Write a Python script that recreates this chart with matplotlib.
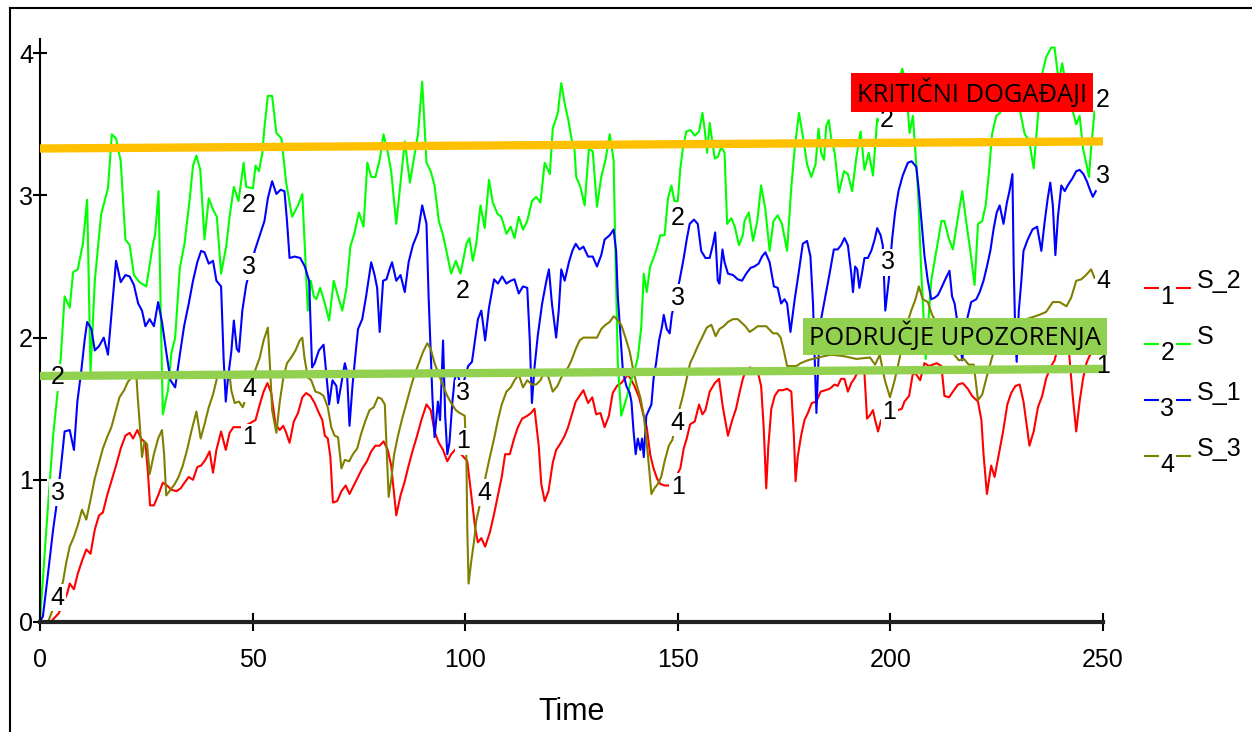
import numpy as np
import matplotlib.pyplot as plt
from matplotlib import font_manager
from matplotlib.lines import Line2D
from matplotlib.patches import Rectangle

# data
s2_t = [0, 2.5, 4.4, 6.4, 7.0, 8.0, 8.9, 9.9, 10.9, 11.9, 12.9, 13.9, 14.8, 15.8, 16.8, 17.9, 19.0, 20.1, 21.1, 21.9,
        22.9, 23.8, 24.8, 25.4, 25.9, 26.8, 27.8, 28.9, 29.9, 30.9, 32.1, 33.1, 34.0, 35.0, 36.0, 37.0, 37.9, 38.9,
        39.9, 40.7, 41.5, 42.6, 43.7, 44.6, 45.5, 46.6, 47.7, 50.7, 51.7, 52.6, 53.5, 54.4, 55.4, 56.4, 57.2, 57.8,
        58.7, 59.7, 60.7, 61.7, 62.6, 63.6, 64.6, 65.6, 66.4, 67.0, 67.7, 68.3, 68.9, 69.9, 70.9, 71.9, 72.8, 73.8,
        74.8, 75.8, 76.9, 77.9, 78.9, 79.9, 80.8, 81.8, 82.6, 83.8, 84.8, 85.8, 86.7, 87.7, 88.7, 89.7, 90.9, 91.9,
        92.8, 93.8, 94.8, 95.8, 96.7, 97.9, 100.5, 102.4, 103.0, 103.8, 104.7, 105.8, 106.8, 107.7, 108.6, 109.4,
        110.5, 111.5, 112.4, 113.4, 114.6, 115.5, 116.3, 117.3, 117.9, 118.7, 119.6, 120.6, 121.4, 122.5, 123.4,
        124.2, 125.0, 126.0, 127.8, 128.9, 129.9, 130.8, 131.8, 132.8, 133.8, 134.7, 135.7, 136.7, 137.5, 138.3,
        139.1, 139.8, 140.9, 141.8, 142.7, 143.5, 144.3, 145.1, 145.9, 146.9, 147.9, 149.2, 150.6, 151.4, 152.1,
        152.9, 154.0, 155.0, 155.8, 156.5, 157.5, 158.7, 159.7, 160.6, 161.8, 162.8, 163.7, 164.5, 165.3, 165.9,
        166.9, 167.9, 168.8, 169.6, 170.2, 170.8, 171.3, 172.0, 172.8, 173.7, 174.7, 175.7, 176.7, 177.3, 177.7,
        178.2, 179.0, 179.8, 180.6, 181.5, 182.6, 183.6, 184.7, 185.7, 186.9, 187.6, 188.4, 189.2, 190.0, 190.8,
        191.7, 192.7, 193.9, 194.5, 195.1, 195.9, 196.4, 197.1, 197.8, 199.7, 201.8, 202.7, 203.3, 204.4, 205.3,
        206.1, 207.0, 208.0, 209.1, 210.9, 212.0, 212.7, 213.8, 214.7, 215.9, 217.0, 218.2, 219.2, 220.6, 221.4,
        221.9, 222.7, 223.7, 224.5, 225.5, 226.5, 227.5, 228.4, 229.4, 230.4, 231.3, 232.1, 232.7, 233.7, 234.7,
        235.7, 236.6, 237.6, 238.6, 239.8, 241.0, 242.0, 242.9, 243.7, 244.5, 245.3, 246.1, 246.8, 248.0]
s2_v = [0, 0.0, 0.06, 0.20, 0.27, 0.23, 0.34, 0.43, 0.51, 0.48, 0.65, 0.75, 0.77, 0.89, 0.99, 1.10, 1.22, 1.31, 1.33, 1.29,
        1.35, 1.29, 1.26, 1.05, 0.82, 0.82, 0.89, 0.98, 0.96, 0.93, 0.92, 0.94, 0.98, 1.02, 1.00, 1.09, 1.10, 1.14,
        1.20, 1.05, 1.21, 1.34, 1.21, 1.33, 1.37, 1.37, 1.37, 1.42, 1.53, 1.62, 1.68, 1.61, 1.39, 1.35, 1.38, 1.34,
        1.26, 1.41, 1.47, 1.58, 1.61, 1.59, 1.54, 1.47, 1.42, 1.31, 1.29, 1.16, 0.84, 0.85, 0.92, 0.96, 0.90, 0.96,
        1.02, 1.08, 1.13, 1.20, 1.24, 1.24, 1.27, 1.21, 1.10, 0.75, 0.89, 0.99, 1.10, 1.21, 1.31, 1.42, 1.53, 1.49,
        1.34, 1.26, 1.21, 1.13, 1.18, 1.22, 1.13, 0.65, 0.56, 0.59, 0.53, 0.63, 0.76, 0.89, 1.02, 1.18,
        1.18, 1.29, 1.37, 1.43, 1.45, 1.47, 1.50, 1.24, 0.97, 0.85, 0.92, 1.12, 1.21, 1.26, 1.31,
        1.37, 1.45, 1.55, 1.63, 1.54, 1.58, 1.46, 1.47, 1.37, 1.45, 1.61, 1.66, 1.68, 1.71, 1.74,
        1.70, 1.66, 1.58, 1.47, 1.37, 1.18, 1.08, 1.01, 0.97, 0.96, 0.96, 1.00, 1.08, 1.22, 1.29,
        1.39, 1.41, 1.53, 1.46, 1.49, 1.62, 1.68, 1.71, 1.51, 1.31, 1.42, 1.50, 1.61, 1.71, 1.76,
        1.79, 1.78, 1.76, 1.66, 1.37, 0.94, 1.24, 1.50, 1.59, 1.63, 1.63, 1.64, 1.62, 1.31, 0.99,
        1.16, 1.31, 1.42, 1.47, 1.54, 1.55, 1.62, 1.63, 1.64, 1.67, 1.66, 1.71, 1.71, 1.62, 1.68,
        1.72, 1.79, 1.75, 1.43, 1.45, 1.49, 1.42, 1.34, 1.42, 1.45, 1.49, 1.50, 1.55, 1.59, 1.75,
        1.74, 1.70, 1.82, 1.80, 1.82, 1.80, 1.59, 1.58, 1.62, 1.67, 1.68, 1.64, 1.59, 1.55, 1.42,
        1.18, 0.90, 1.10, 1.02, 1.18, 1.34, 1.53, 1.61, 1.66, 1.67, 1.55, 1.37, 1.24, 1.34, 1.51,
        1.59, 1.71, 1.79, 1.84, 1.98, 1.98, 1.90, 1.58, 1.34, 1.55, 1.71, 1.82, 1.87, 1.92]

s_t = [0, 1.5, 3.1, 4.2, 4.9, 5.8, 7.0, 7.8, 8.9, 10.1, 11.1, 11.9, 12.9, 14.4, 16.0, 16.9, 17.9, 19.0, 20.1, 21.1,
       22.1, 23.4, 25.0, 26.6, 27.1, 27.9, 28.4, 28.9, 30.1, 30.9, 31.8, 32.9, 34.0, 35.2, 36.0, 36.8, 37.7, 38.7,
       39.7, 40.7, 41.6, 42.6, 43.8, 44.6, 45.6, 46.7, 47.9, 48.5, 50.1, 50.7, 51.5, 52.3, 52.8, 53.6, 54.6, 55.6,
       56.8, 57.9, 59.3, 60.7, 61.7, 62.6, 63.0, 63.7, 64.4, 65.0, 65.9, 67.0, 68.0, 69.1, 70.1, 71.1, 72.1, 73.0,
       74.0, 75.0, 76.1, 77.0, 77.9, 78.9, 79.9, 80.8, 81.8, 82.6, 83.8, 84.8, 85.8, 87.0, 88.0, 88.9, 89.9, 90.9,
       91.9, 92.8, 93.8, 94.8, 95.8, 96.7, 97.8, 98.9, 100.3, 101.0, 101.8, 102.6, 103.6, 104.6, 105.6, 106.5,
       107.6, 108.5, 109.7, 110.7, 111.6, 112.6, 113.6, 114.6, 115.7, 116.7, 117.7, 118.7, 119.9, 120.6, 121.8,
       122.6, 123.5, 124.2, 125.0, 125.7, 126.1, 127.1, 128.1, 129.1, 130.0, 131.0, 132.0, 133.0, 134.0, 134.9,
       135.4, 135.9, 136.7, 137.5, 138.3, 139.1, 139.8, 140.6, 141.4, 142.0, 142.7, 143.5, 144.3, 145.2, 145.9,
       146.9, 147.7, 148.5, 149.2, 150.0, 150.6, 151.2, 152.0, 153.0, 154.0, 155.0, 155.8, 156.3, 156.9, 157.5,
       158.1, 158.7, 159.4, 160.2, 161.0, 161.6, 162.6, 163.4, 164.4, 165.3, 165.7, 166.7, 167.7, 168.7, 169.6,
       170.6, 171.6, 172.5, 173.5, 174.5, 175.7, 176.7, 177.5, 178.5, 179.4, 180.4, 181.4, 182.4, 183.1, 183.7,
       184.4, 184.9, 185.5, 186.1, 186.9, 187.9, 189.1, 190.0, 191.0, 192.0, 193.0, 193.9, 194.9, 195.9, 196.9,
       197.4, 199.0, 200.5, 201.8, 202.8, 203.7, 204.5, 205.3, 206.5, 207.2, 208.3, 209.6, 210.8, 212.0, 212.7,
       213.8, 214.7, 215.9, 216.9, 217.8, 218.8, 219.8, 220.6, 221.6, 222.4, 223.2, 223.9, 224.9, 225.8, 226.8,
       227.9, 228.7, 229.6, 230.5, 231.6, 232.6, 233.7, 234.7, 235.5, 236.6, 237.8, 238.6, 239.6, 240.4, 241.2,
       242.1, 242.9, 243.7, 244.5, 245.3, 246.1, 246.7, 247.2, 248.0]
s_v = [0, 0.65, 1.31, 1.63, 1.86, 2.29, 2.21, 2.46, 2.48, 2.66, 2.97, 1.76, 2.40, 2.87, 3.05, 3.43, 3.40, 3.24, 2.69, 2.65,
       2.44, 2.39, 2.36, 2.66, 2.73, 3.03, 2.19, 1.46, 1.63, 1.89, 2.00, 2.49, 2.66, 2.97, 3.21, 3.28, 3.18, 2.69,
       2.98, 2.90, 2.85, 2.45, 2.64, 2.85, 3.06, 2.96, 3.23, 3.06, 3.05, 3.21, 3.17, 3.30, 3.48, 3.70, 3.70, 3.44,
       3.40, 3.09, 2.85, 2.93, 3.01, 2.45, 2.19, 2.40, 2.29, 2.27, 2.35, 2.24, 2.12, 2.40, 2.29, 2.19, 2.35, 2.64,
       2.74, 2.88, 2.78, 3.23, 3.13, 3.13, 3.25, 3.43, 3.30, 3.17, 2.80, 3.09, 3.38, 3.09, 3.27, 3.43, 3.80, 3.23,
       3.17, 3.07, 2.82, 2.72, 2.58, 2.45, 2.54, 2.45, 2.66, 2.70, 2.54, 2.66, 2.93, 2.77, 3.11, 2.95,
       2.87, 2.85, 2.73, 2.78, 2.70, 2.85, 2.76, 2.82, 2.96, 2.99, 2.95, 3.23, 3.15, 3.47, 3.58,
       3.79, 3.63, 3.54, 3.40, 3.33, 3.13, 3.06, 2.93, 3.33, 3.31, 2.92, 3.13, 3.25, 3.43, 3.25,
       2.50, 1.82, 1.45, 1.53, 1.61, 1.71, 1.76, 1.86, 2.07, 2.45, 2.32, 2.50, 2.56, 2.64, 2.72,
       2.72, 2.98, 3.07, 2.96, 2.96, 3.19, 3.33, 3.45, 3.46, 3.42, 3.45, 3.58, 3.47, 3.30, 3.51,
       3.38, 3.26, 3.27, 3.34, 3.30, 2.80, 2.84, 2.78, 2.65, 2.72, 2.82, 2.88, 2.68, 2.82, 3.07,
       2.90, 2.61, 2.82, 2.86, 2.80, 2.61, 3.06, 3.33, 3.58, 3.42, 3.22, 3.13, 3.22, 3.47, 3.30,
       3.25, 3.49, 3.53, 3.40, 3.30, 3.02, 3.17, 3.15, 3.03, 3.27, 3.45, 3.18, 3.30, 3.14, 3.54,
       3.52, 3.60, 3.70, 3.80, 3.89, 3.77, 3.44, 3.56, 3.03, 2.50, 1.85, 2.40, 2.61, 2.82, 2.82,
       2.69, 2.62, 2.85, 3.03, 2.82, 2.61, 2.37, 2.80, 2.82, 2.93, 3.17, 3.43, 3.56, 3.58, 3.70,
       3.84, 3.80, 3.75, 3.59, 3.43, 3.39, 3.19, 3.56, 3.83, 3.97, 4.04, 4.04, 3.80, 3.93, 3.80,
       3.64, 3.59, 3.50, 3.56, 3.33, 3.22, 3.13, 3.33, 3.59]

s1_t = [0, 0.7, 1.9, 3.1, 3.8, 4.9, 5.8, 7.0, 8.0, 8.8, 9.7, 10.5, 11.1, 12.1, 12.9, 13.9, 15.0, 16.0, 16.9, 17.9,
        19.0, 20.1, 21.1, 22.1, 23.1, 24.0, 24.8, 25.8, 26.8, 27.8, 28.7, 29.7, 30.7, 31.8, 32.9, 33.9, 35.0, 36.0,
        37.0, 37.9, 38.7, 39.7, 40.7, 41.5, 42.6, 43.2, 43.7, 44.2, 45.0, 45.6, 46.3, 46.8, 47.6, 48.5, 50.5, 51.7,
        52.8, 53.6, 54.6, 55.6, 56.6, 57.5, 58.1, 58.7, 59.9, 61.2, 62.3, 63.3, 63.7, 64.0, 64.6, 65.6, 66.7, 67.3,
        68.0, 68.8, 69.7, 70.1, 70.9, 71.7, 72.2, 72.8, 73.5, 74.0, 74.8, 75.8, 76.7, 77.4, 77.9, 78.7, 79.3, 79.9,
        80.7, 81.5, 82.2, 82.8, 83.8, 84.8, 85.8, 86.7, 87.7, 88.9, 89.9, 90.9, 91.4, 91.9, 92.3, 92.8, 93.6, 94.1,
        94.8, 95.3, 95.8, 96.3, 97.0, 97.5, 97.9, 99.3, 100.7, 101.6, 102.4, 103.0, 103.8, 104.7, 105.6, 106.8,
        107.7, 108.7, 109.7, 110.7, 111.6, 112.6, 113.6, 114.6, 115.2, 115.7, 116.3, 117.1, 118.1, 119.1, 119.7,
        120.4, 121.4, 122.0, 122.6, 123.4, 124.4, 125.2, 126.0, 126.9, 127.8, 128.9, 130.0, 131.0, 132.0, 132.8,
        134.0, 134.9, 135.5, 135.9, 136.5, 137.1, 137.9, 138.7, 139.1, 139.6, 140.1, 140.6, 141.2, 141.6, 142.0,
        142.6, 143.2, 143.8, 144.3, 144.9, 145.6, 146.3, 146.7, 147.4, 148.1, 148.6, 149.5, 150.4, 151.4, 152.1,
        152.8, 153.8, 154.7, 155.5, 156.5, 157.5, 158.3, 158.8, 159.4, 159.8, 160.5, 161.0, 161.8, 163.0, 164.1,
        165.1, 166.1, 167.1, 168.0, 169.0, 169.8, 170.6, 171.6, 172.6, 173.5, 174.3, 175.1, 175.7, 176.5, 177.5,
        178.4, 179.4, 180.4, 181.2, 181.8, 182.3, 182.6, 183.1, 183.7, 184.7, 185.7, 186.7, 187.6, 188.4, 189.2,
        190.0, 190.8, 191.2, 191.7, 192.2, 192.7, 193.3, 193.9, 194.7, 195.5, 196.3, 196.9, 197.7, 198.2, 198.8,
        199.6, 200.4, 201.1, 201.9, 202.9, 204.1, 205.0, 206.1, 206.7, 207.3, 208.0, 208.8, 209.6, 210.4, 211.2,
        212.0, 212.9, 213.9, 214.5, 215.1, 215.9, 216.9, 217.8, 219.0, 220.2, 221.0, 221.9, 222.7, 223.5, 224.3,
        225.0, 225.7, 226.6, 227.4, 228.0, 228.7, 229.0, 229.4, 229.7, 230.2, 230.8, 231.3, 232.3, 233.4, 234.5,
        235.5, 236.3, 237.0, 237.6, 238.2, 238.8, 239.4, 240.2, 241.0, 241.7, 242.8, 243.7, 244.5, 245.4, 246.2,
        246.8, 247.6, 248.3]
s1_v = [0, 0.04, 0.34, 0.65, 0.80, 1.08, 1.34, 1.35, 1.21, 1.55, 1.76, 1.98, 2.11, 2.06, 1.91, 1.94, 2.00, 1.88, 2.19, 2.54,
        2.39, 2.44, 2.43, 2.37, 2.24, 2.19, 2.08, 2.13, 2.08, 2.25, 2.11, 1.90, 1.70, 1.65, 1.88, 2.08, 2.24, 2.40,
        2.53, 2.61, 2.60, 2.52, 2.54, 2.40, 2.36, 1.85, 1.55, 1.71, 1.90, 2.12, 1.92, 1.90, 2.19, 2.37, 2.61, 2.72,
        2.82, 2.98, 3.10, 3.01, 3.04, 3.03, 2.82, 2.56, 2.57, 2.56, 2.50, 2.40, 2.06, 1.79, 1.82, 1.91, 1.95, 1.76,
        1.53, 1.70, 1.66, 1.54, 1.68, 1.82, 1.76, 1.38, 1.66, 1.82, 2.06, 2.13, 2.29, 2.43, 2.53, 2.44, 2.35, 2.04,
        2.40, 2.41, 2.48, 2.53, 2.40, 2.44, 2.32, 2.53, 2.65, 2.74, 2.93, 2.80, 2.29, 1.90, 1.58, 1.30, 1.55, 1.42,
        1.98, 1.45, 1.18, 1.26, 1.55, 1.70, 1.76, 1.65, 1.80, 1.83, 2.00, 2.13, 2.19, 1.98, 2.21, 2.41,
        2.38, 2.43, 2.38, 2.40, 2.41, 2.31, 2.36, 2.35, 1.98, 1.54, 1.79, 2.02, 2.24, 2.40, 2.48,
        2.24, 2.00, 2.19, 2.48, 2.40, 2.53, 2.61, 2.66, 2.62, 2.64, 2.57, 2.57, 2.50, 2.58, 2.69,
        2.72, 2.76, 2.61, 2.29, 2.03, 1.76, 1.66, 1.61, 1.55, 1.34, 1.18, 1.29, 1.21, 1.29, 1.16,
        1.45, 1.49, 1.53, 1.71, 1.82, 1.98, 2.08, 2.16, 2.06, 2.03, 2.16, 2.28, 2.40, 2.56, 2.69,
        2.80, 2.83, 2.80, 2.61, 2.56, 2.56, 2.66, 2.74, 2.40, 2.38, 2.62, 2.53, 2.45, 2.44, 2.41,
        2.40, 2.45, 2.49, 2.50, 2.52, 2.57, 2.60, 2.53, 2.36, 2.35, 2.24, 2.27, 2.24, 2.04, 2.27,
        2.45, 2.66, 2.68, 2.57, 2.24, 1.76, 1.47, 1.86, 2.13, 2.29, 2.45, 2.62, 2.62, 2.65, 2.70,
        2.65, 2.45, 2.32, 2.50, 2.48, 2.35, 2.45, 2.56, 2.56, 2.61, 2.69, 2.77, 2.72, 2.65, 2.19,
        2.40, 2.69, 2.88, 3.03, 3.14, 3.23, 3.24, 3.20, 3.03, 2.82, 2.58, 2.40, 2.27, 2.28, 2.30,
        2.35, 2.41, 2.47, 2.29, 2.24, 2.08, 1.84, 2.10, 2.25, 2.27, 2.32, 2.40, 2.50, 2.61, 2.77,
        2.88, 2.93, 2.80, 2.95, 3.03, 3.15, 2.50, 1.98, 1.83, 2.19, 2.40, 2.61, 2.69, 2.76, 2.78,
        2.61, 2.82, 2.98, 3.09, 2.93, 2.58, 2.85, 3.07, 3.03, 3.07, 3.12, 3.17, 3.18, 3.15, 3.10,
        3.05, 2.99, 3.03]

s3_t = [0, 1.9, 2.8, 5.4, 6.2, 7.0, 8.0, 8.9, 9.9, 10.9, 11.9, 12.9, 13.9, 14.8, 15.8, 16.8, 17.7, 18.7, 19.8, 20.7,
        21.6, 22.7, 23.0, 23.4, 24.0, 24.6, 25.2, 25.8, 26.8, 27.8, 28.7, 29.2, 29.7, 30.7, 31.7, 32.6, 33.6, 34.6,
        35.6, 36.8, 37.8, 38.7, 39.7, 40.7, 41.6, 42.6, 43.7, 44.6, 45.0, 45.8, 46.8, 47.7, 50.5, 51.7, 52.6, 53.6,
        54.2, 54.6, 55.6, 56.4, 57.2, 58.1, 59.1, 60.1, 61.1, 61.7, 62.2, 63.0, 63.8, 64.8, 65.8, 66.7, 67.7, 68.5,
        69.3, 70.1, 70.9, 71.7, 72.7, 73.6, 74.6, 75.6, 76.6, 77.5, 78.5, 79.5, 80.3, 81.1, 81.5, 82.0, 82.6, 83.3,
        84.2, 85.1, 86.2, 87.2, 88.1, 89.1, 90.1, 91.1, 91.9, 92.8, 93.8, 94.8, 95.8, 96.7, 97.8, 98.7, 99.9, 100.3,
        100.5, 100.8, 101.4, 102.1, 102.6, 103.2, 105.0, 105.8, 106.8, 107.7, 108.6, 109.7, 110.7, 111.6, 112.6,
        113.6, 114.6, 115.7, 116.7, 117.7, 118.7, 119.6, 120.6, 121.7, 122.6, 123.5, 124.2, 125.0, 126.0, 126.9,
        127.8, 131.0, 132.0, 133.0, 134.0, 134.9, 135.7, 136.7, 137.7, 138.7, 139.6, 140.4, 141.2, 142.0, 142.6,
        143.2, 143.8, 144.5, 145.3, 146.1, 146.9, 147.9, 148.7, 150.4, 151.2, 152.1, 152.9, 153.7, 154.7, 155.7,
        156.8, 157.9, 158.9, 159.8, 160.8, 161.8, 163.0, 164.1, 165.9, 166.9, 167.9, 168.8, 170.8, 172.4, 173.4,
        174.2, 175.0, 175.7, 176.7, 177.9, 178.9, 180.5, 183.0, 186.0, 189.0, 192.0, 195.2, 196.4, 197.5, 198.7,
        199.9, 201.0, 202.2, 203.4, 204.9, 205.9, 206.7, 207.6, 208.8, 209.8, 211.0, 212.5, 214.0, 215.0, 216.1,
        217.3, 218.4, 219.6, 220.6, 221.6, 222.7, 223.9, 225.5, 227.0, 229.0, 231.0, 233.0, 235.0, 236.6, 238.2,
        239.8, 241.4, 242.5, 243.7, 244.9, 246.0, 247.2, 248.0]
s3_v = [0, 0.0, 0.07, 0.28, 0.42, 0.53, 0.60, 0.68, 0.79, 0.72, 0.86, 1.01, 1.12, 1.22, 1.30, 1.37, 1.47, 1.58, 1.63, 1.69,
        1.72, 1.72, 1.58, 1.42, 1.16, 1.27, 1.25, 1.04, 1.18, 1.29, 1.35, 1.18, 0.89, 0.93, 0.97, 1.02, 1.10, 1.21,
        1.34, 1.48, 1.29, 1.39, 1.51, 1.60, 1.71, 1.76, 1.72, 1.74, 1.63, 1.54, 1.55, 1.51, 1.76, 1.86, 1.98, 2.07,
        1.74, 1.49, 1.33, 1.55, 1.71, 1.82, 1.86, 1.91, 1.98, 2.00, 1.86, 1.72, 1.70, 1.62, 1.61, 1.59, 1.51, 1.37,
        1.31, 1.30, 1.08, 1.14, 1.13, 1.18, 1.22, 1.33, 1.42, 1.49, 1.51, 1.58, 1.57, 1.53, 1.24, 0.88, 1.00, 1.18,
        1.31, 1.42, 1.54, 1.65, 1.74, 1.82, 1.90, 1.96, 1.92, 1.82, 1.74, 1.66, 1.59, 1.54, 1.49, 1.47, 1.45, 1.13,
        0.65, 0.27, 0.42, 0.57, 0.71, 0.79, 1.05, 1.16, 1.29, 1.42, 1.53, 1.62, 1.65, 1.70, 1.74,
        1.65, 1.70, 1.67, 1.67, 1.70, 1.76, 1.72, 1.62, 1.66, 1.72, 1.76, 1.79, 1.84, 1.92, 1.98,
        2.00, 2.00, 2.06, 2.09, 2.11, 2.15, 2.13, 2.09, 2.00, 1.90, 1.76, 1.66, 1.58, 1.45, 1.29,
        1.10, 0.90, 0.94, 0.97, 1.02, 1.13, 1.24, 1.28, 1.50, 1.59, 1.71, 1.82, 1.87, 1.94, 2.00,
        2.07, 2.09, 2.01, 2.06, 2.08, 2.11, 2.13, 2.13, 2.08, 2.04, 2.06, 2.08, 2.08, 2.03, 2.03,
        2.00, 1.90, 1.80, 1.80, 1.80, 1.82, 1.84, 1.86, 1.88, 1.87, 1.85, 1.86, 1.81, 1.88, 1.70,
        1.58, 1.70, 1.86, 2.05, 2.19, 2.27, 2.36, 2.27, 2.25, 2.16, 2.10, 2.00, 1.92, 1.88, 1.84,
        1.85, 1.81, 1.81, 1.56, 1.60, 1.73, 1.86, 2.00, 2.08, 2.10, 2.12, 2.14, 2.16, 2.18, 2.25,
        2.25, 2.22, 2.28, 2.40, 2.41, 2.44, 2.48, 2.42]

# where vensim writes the series number on each line (time, value)
s2_lab_t = [49.2, 99.5, 150, 199.7, 250]
s2_lab_v = [1.30, 1.27, 0.95, 1.48, 1.80]
s_lab_t = [4.2, 49.2, 99.5, 150, 199.2, 250]
s_lab_v = [1.72, 2.93, 2.33, 2.84, 3.53, 3.67]
s1_lab_t = [4.2, 49.2, 99.5, 150, 199.4, 250]
s1_lab_v = [0.91, 2.50, 1.61, 2.28, 2.53, 3.14]
s3_lab_t = [4.2, 49.2, 104.4, 150, 250]
s3_lab_v = [0.17, 1.64, 0.91, 1.40, 2.40]

names = ['S_2', 'S', 'S_1', 'S_3']
colors = ['#ff0000', '#00ff00', '#0000ff', '#808000']

# threshold lines
thr_t = [0, 250]
crit_v = [3.33, 3.38]
warn_v = [1.73, 1.78]

names_avail = {f.name for f in font_manager.fontManager.ttflist}
nfont = 'Liberation Sans Narrow' if 'Liberation Sans Narrow' in names_avail else 'Liberation Sans'

fig = plt.figure(figsize=(12.52, 7.32), dpi=100)
ax = fig.add_axes([0.0319, 0.1503, 0.8491, 0.7964])

series = [(s2_t, s2_v, s2_lab_t, s2_lab_v), (s_t, s_v, s_lab_t, s_lab_v),
          (s1_t, s1_v, s1_lab_t, s1_lab_v), (s3_t, s3_v, s3_lab_t, s3_lab_v)]
for i, (t, v, lt, lv) in enumerate(series):
    ax.plot(t, v, color=colors[i], lw=1.5, zorder=2)
    for x, y in zip(lt, lv):
        # white patch makes the gap in the line, number drawn above thresholds
        ax.text(x, y, str(i + 1), ha='center', va='center', fontsize=18, family=nfont, color='none',
                bbox=dict(fc='white', ec='none', pad=1), zorder=3, clip_on=False)
        ax.text(x, y, str(i + 1), ha='center', va='center', fontsize=18, family=nfont, color='black',
                zorder=6, clip_on=False)

ax.plot(thr_t, crit_v, color='#ffc000', lw=6, solid_capstyle='butt', zorder=4, clip_on=False)
ax.plot(thr_t, warn_v, color='#92d050', lw=6, solid_capstyle='butt', zorder=4, clip_on=False)

# annotation boxes
ax.add_patch(Rectangle((190.7, 3.585), 56.9, 0.275, fc='#ff0000', ec='none', zorder=7, clip_on=False))
ax.text(219.2, 3.722, 'KRITIČNI DOGAĐAJI', ha='center', va='center', fontsize=18.4, family='Open Sans',
        color='black', zorder=8)
ax.add_patch(Rectangle((179.4, 1.877), 71.5, 0.263, fc='#92d050', ec='none', zorder=7, clip_on=False))
ax.text(215.1, 2.008, 'PODRUČJE UPOZORENJA', ha='center', va='center', fontsize=18.4, family='Open Sans',
        color='black', zorder=8, clip_on=False)

ax.set_xlim(0, 250)
ax.set_ylim(0, 4.1)
ax.set_xticks([0, 50, 100, 150, 200, 250])
ax.set_yticks([0, 1, 2, 3, 4])
ax.spines['top'].set_visible(False)
ax.spines['right'].set_visible(False)
ax.spines['left'].set_linewidth(1.5)
ax.spines['bottom'].set_linewidth(3)
ax.spines['bottom'].set_color('#222222')
ax.tick_params(axis='x', direction='inout', length=13, width=1.5, pad=12)
ax.tick_params(axis='y', direction='inout', length=10, width=1.5, pad=0)
for lb in ax.get_xticklabels() + ax.get_yticklabels():
    lb.set_family(nfont)
    lb.set_fontsize(18)
ax.set_xlabel('Time', fontsize=22, family=nfont, labelpad=18)

# legend drawn by hand like vensim
for i in range(4):
    yl = 0.6066 - i * 0.0765
    fig.add_artist(Line2D([0.9145, 0.9505], [yl, yl], color=colors[i], lw=1.5))
    fig.text(0.9325, yl - 0.0125, str(i + 1), ha='center', va='center', fontsize=18, family=nfont,
             bbox=dict(fc='white', ec='none', pad=1))
    fig.text(0.956, yl + 0.0096, names[i], ha='left', va='center', fontsize=18, family=nfont)

# screenshot frame
fig.add_artist(Line2D([0.008, 0.008], [0, 0.989], color='black', lw=1.5))
fig.add_artist(Line2D([0.008, 1.0], [0.989, 0.989], color='black', lw=1.5))

fig.savefig('out.png', dpi=100)
